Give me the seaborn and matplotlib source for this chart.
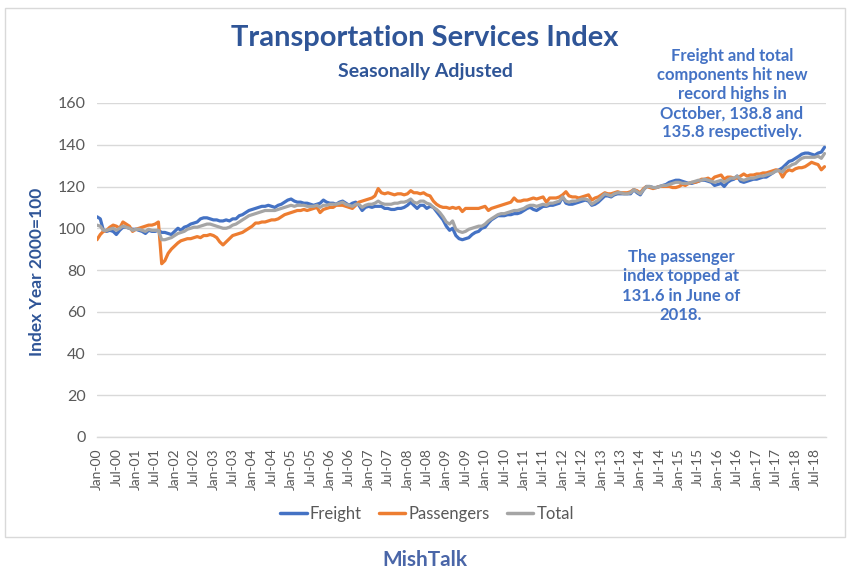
import matplotlib
matplotlib.use("Agg")
import numpy as np
import pandas as pd
import matplotlib.pyplot as plt
import matplotlib.dates as mdates
from matplotlib.patches import Rectangle
import seaborn as sns

# ---------------- data ----------------
start_month = "2000-01-01"
series_names = ["Freight", "Passengers", "Total"]
series_colors = ["#4472C4", "#ED7D31", "#A5A5A5"]

freight = [
    105.5, 104.5, 99, 98.5, 99, 98.5, 97, 99, 100.5, 100.5, 100, 99.5,
    99.5, 99, 98.5, 97.5, 99, 98.5, 98.5, 99, 98, 98, 97.5, 97,
    98.5, 100, 99, 100.5, 101, 102, 102.5, 103, 104.5, 105, 105, 104.5,
    104, 104, 103.5, 103.5, 104, 103.5, 104.5, 104.5, 106, 106.5, 107.5, 108.5,
    109, 109.5, 110, 110.5, 110.5, 111, 110.5, 110, 111, 111.5, 112.5, 113.5,
    114, 113, 112.5, 112.5, 112, 112, 111.5, 111, 111.5, 112, 113.5, 112.5,
    112, 112, 111.5, 112.5, 113, 112, 111, 112, 112.5, 111, 108.5, 110,
    110.5, 110, 110.5, 110.5, 110.5, 109.5, 109.5, 109, 109, 109.5, 109.5, 110,
    111, 112.5, 111, 109.5, 111, 111, 109.5, 110.5, 110, 108, 106, 104,
    101, 99, 100, 96.5, 95, 94.5, 95, 95.5, 97, 98, 98.5, 100,
    100.5, 102.5, 104, 105, 106, 106, 106, 106.5, 106.5, 107, 107, 107.5,
    108.5, 109.5, 110, 109, 108.5, 109.5, 110.5, 110.5, 111, 111, 111.5, 112,
    115, 112, 111.5, 111.5, 112, 112.5, 113, 113.5, 113, 111, 111.5, 112.5,
    114, 115.5, 115.5, 115, 116, 116.5, 116.5, 116.5, 116.5, 116.5, 118.5, 117,
    116, 118.5, 120, 120, 119.5, 119.5, 120, 120.5, 121, 122, 122.5, 123,
    123, 122.5, 122, 121.5, 121.5, 122, 122.5, 123, 123, 122.5, 122, 120.5,
    121, 121.5, 120, 122, 123, 123.5, 125, 122.5, 122, 122.5, 123, 123.5,
    123.5, 124, 124.5, 124.5, 125.5, 126.5, 127.5, 128, 129, 130.5, 132, 132.5,
    133.5, 134.5, 135.5, 136, 136, 135.5, 135, 136, 136.5, 138.8,
]

passengers = [
    94.5, 97, 98.5, 99, 100.5, 101.5, 101, 100, 103, 102, 101, 98.5,
    99.5, 100, 100.5, 101, 101.5, 101.5, 102, 103, 83, 84.5, 88, 90,
    91.5, 93, 94, 94.5, 95, 95, 95.5, 96, 95.5, 96.5, 96.5, 97,
    96.5, 95.5, 93.5, 92, 93.5, 95, 96.5, 97, 97.5, 98, 99, 100,
    101, 102.5, 102.5, 103, 103, 103.5, 104, 104, 104.5, 105.5, 106.5, 107,
    107.5, 108, 108.5, 108.5, 109, 108.5, 109, 109.5, 110, 107.5, 109, 109.5,
    110, 110, 111, 111, 111, 110.5, 110, 109.5, 111, 112.5, 113, 113.5,
    114, 114.5, 115.5, 119, 117, 116.5, 117, 116.5, 116, 116.5, 116.5, 116,
    116.5, 118, 117, 117, 116.5, 117, 116, 115.5, 113, 111.5, 110.5, 110,
    110, 109.5, 110, 109.5, 110, 108, 109.5, 109.5, 109.5, 109.5, 109.5, 110,
    110.5, 108.5, 109.5, 110, 110.5, 111, 111.5, 112, 112.5, 114.5, 113, 113,
    113.5, 113.5, 114, 114.5, 114, 114.5, 115, 112.5, 114.5, 114.5, 114.5, 115,
    116, 117.5, 115.5, 115, 115, 114.5, 115, 115.5, 116, 113.5, 114.5, 115,
    116, 117, 116.5, 116.5, 117, 117.5, 117, 117, 117, 117.5, 118.5, 118,
    117, 119, 120, 119.5, 119, 119.5, 120, 120, 120, 120, 119.5, 119.5,
    120, 121, 120.5, 121.5, 122, 122, 122.5, 123.5, 123.5, 124, 123, 124.5,
    125, 125.5, 123.5, 124.5, 124.5, 124, 124, 125, 126, 125, 125.5, 125.5,
    126, 126, 126.5, 126.5, 127, 127.5, 128, 127.5, 124.5, 127, 128, 127.5,
    128.5, 129, 129, 129.5, 130.5, 131.6, 131, 130.5, 128, 129.5,
]

total = [
    101.5, 101, 99, 99, 99.5, 100, 99, 100, 101, 100.5, 100, 99,
    99.5, 99.5, 99, 98.5, 99.5, 99, 99, 99, 94.5, 94.5, 95, 95.5,
    96.5, 97.5, 98, 98.5, 99.5, 100, 100.5, 100.5, 101, 101.5, 102, 102,
    101.5, 101, 100.5, 100, 100, 100.5, 101.5, 102, 103, 104, 105, 106,
    106.5, 107, 107.5, 108, 108.5, 108.5, 108.5, 108.5, 109, 109.5, 110, 110.5,
    111, 110.5, 111, 111, 111, 110.5, 110.5, 110.5, 111, 110, 111, 111,
    111.5, 111.5, 111.5, 112, 112.5, 111.5, 111, 110.5, 111.5, 111.5, 110, 111,
    111.5, 111.5, 112, 113, 112, 111.5, 111.5, 111.5, 112, 112, 112.5, 112.5,
    113, 114, 112.5, 112, 113, 113, 112, 111.5, 110, 109, 107.5, 105.5,
    103, 102, 103.5, 99.5, 98.5, 98, 98.5, 99.5, 100, 100.5, 101, 101,
    102, 103.5, 104.5, 105.5, 106.5, 107, 107, 107.5, 108, 108.5, 108.5, 109,
    109.5, 110.5, 111, 111, 110.5, 111, 111.5, 111, 112, 112, 112.5, 113,
    115, 113, 112.5, 113, 113, 113.5, 114, 114, 113.5, 111.5, 112.5, 113.5,
    115, 116.5, 116, 115.5, 116.5, 117, 117, 116.5, 116.5, 117, 118.5, 117.5,
    116.5, 118.5, 120, 120, 119.5, 119.5, 120, 120.5, 120.5, 121, 121.5, 122,
    122, 121.5, 121.5, 121.5, 122, 122.5, 123, 123, 123.5, 123, 122.5, 122,
    122.5, 123, 122, 123, 124, 124, 125, 123.5, 123, 123.5, 124, 124,
    124.5, 125, 125, 125.5, 126, 126.5, 127.5, 127.5, 127, 129, 129.5, 130.5,
    131, 132.5, 133.5, 134, 134, 134, 134, 134.5, 133.5, 135.8,
]

y_ticks = [0, 20, 40, 60, 80, 100, 120, 140, 160]
x_tick_labels = [
    "Jan-00", "Jul-00", "Jan-01", "Jul-01", "Jan-02", "Jul-02", "Jan-03", "Jul-03",
    "Jan-04", "Jul-04", "Jan-05", "Jul-05", "Jan-06", "Jul-06", "Jan-07", "Jul-07",
    "Jan-08", "Jul-08", "Jan-09", "Jul-09", "Jan-10", "Jul-10", "Jan-11", "Jul-11",
    "Jan-12", "Jul-12", "Jan-13", "Jul-13", "Jan-14", "Jul-14", "Jan-15", "Jul-15",
    "Jan-16", "Jul-16", "Jan-17", "Jul-17", "Jan-18", "Jul-18",
]

title_text = "Transportation Services Index"
subtitle_text = "Seasonally Adjusted"
note_freight = "Freight and total\ncomponents hit new\nrecord highs in\nOctober, 138.8 and\n135.8 respectively."
note_passenger = "The passenger\nindex topped at\n131.6 in June of\n2018."
y_label = "Index Year 2000=100"
source_text = "MishTalk"

# ---------------- frame ----------------
dates = pd.date_range(start_month, periods=len(freight), freq="MS")
df = pd.concat([
    pd.DataFrame({"Month": dates, "Index": vals, "Series": name})
    for name, vals in zip(series_names, [freight, passengers, total])
], ignore_index=True)

# ---------------- style ----------------
sns.set_style("white")
plt.rcParams["font.family"] = ["Lato", "DejaVu Sans"]

W, H = 852, 587
fig = plt.figure(figsize=(W / 100, H / 100), dpi=100)
ax = fig.add_axes([97 / W, 1 - 437 / H, (826 - 97) / W, (437 - 103) / H])

sns.lineplot(
    data=df, x="Month", y="Index", hue="Series", hue_order=series_names,
    palette=dict(zip(series_names, series_colors)), linewidth=2.3,
    ax=ax, legend=True,
)

ax.set_ylim(0, 160)
ax.set_yticks(y_ticks)
ax.set_xlim(dates[0], dates[-1] + pd.Timedelta(days=14))
tick_dates = pd.date_range(start_month, periods=len(x_tick_labels), freq="6MS")
ax.set_xticks(tick_dates)
ax.set_xticklabels(x_tick_labels, rotation=90)

grid_c = "#D9D9D9"
ax.grid(axis="y", color=grid_c, linewidth=1.0)
ax.grid(axis="x", visible=False)
ax.set_axisbelow(True)
for s in ["top", "right", "left"]:
    ax.spines[s].set_visible(False)
ax.spines["bottom"].set_color(grid_c)
ax.spines["bottom"].set_linewidth(1.0)
ax.tick_params(axis="x", colors="#595959", labelsize=10, length=5, width=1,
               direction="out", pad=3)
ax.tick_params(axis="x", which="major", color=grid_c)
ax.tick_params(axis="y", colors="#595959", labelsize=11.5, length=0, pad=8)
ax.set_xlabel("")
ax.set_ylabel("")

# legend at bottom
handles, labels = ax.get_legend_handles_labels()
ax.get_legend().remove()
for h in handles:
    h.set_linewidth(2.5)
fig.legend(handles, labels, loc="center", bbox_to_anchor=(427 / W, 1 - 514 / H),
           ncol=3, frameon=False, fontsize=12, labelcolor="#595959",
           handlelength=1.6, handletextpad=0.2, columnspacing=1.0)

# texts
title_c = "#2F5597"
note_c = "#4472C4"
fig.text(425 / W, 1 - 38 / H, title_text, ha="center", va="center",
         fontsize=21, fontweight="bold", color=title_c)
fig.text(425 / W, 1 - 71 / H, subtitle_text, ha="center", va="center",
         fontsize=14, fontweight="bold", color=title_c)
fig.text(732 / W, 1 - 94 / H, note_freight, ha="center", va="center",
         fontsize=12, fontweight="bold", color=note_c, linespacing=1.25)
fig.text(681 / W, 1 - 286 / H, note_passenger, ha="center", va="center",
         fontsize=12, fontweight="bold", color=note_c, linespacing=1.25)
fig.text(37 / W, 1 - 272 / H, y_label, ha="center", va="center", rotation=90,
         fontsize=12.5, fontweight="bold", color=title_c)
fig.text(425 / W, 1 - 560 / H, source_text, ha="center", va="center",
         fontsize=15, fontweight="bold", color="#4A66A8")

# chart border
fig.patches.append(Rectangle((5 / W, 1 - 537 / H), 840 / W, 529 / H,
                             transform=fig.transFigure, fill=False,
                             edgecolor=grid_c, linewidth=1.0))

fig.savefig("out.png", dpi=100)
